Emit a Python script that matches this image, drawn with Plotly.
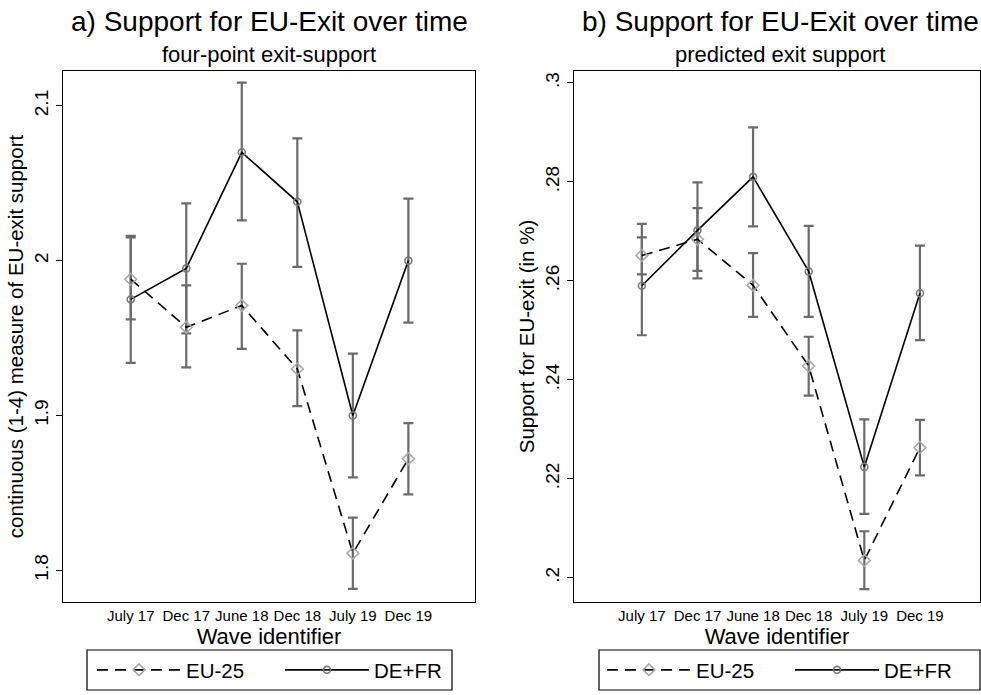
import numpy as np
import plotly.graph_objects as go

# ---------------- data ----------------
waves = ["July 17", "Dec 17", "June 18", "Dec 18", "July 19", "Dec 19"]
wave_pos = [1, 2, 3, 4, 5, 6]

# panel a) four-point exit-support (1-4 scale)
a_eu = [1.988, 1.957, 1.971, 1.930, 1.811, 1.872]
a_eu_lo = [1.962, 1.931, 1.943, 1.906, 1.788, 1.849]
a_eu_hi = [2.015, 1.984, 1.998, 1.955, 1.834, 1.895]
a_de = [1.975, 1.995, 2.070, 2.038, 1.900, 2.000]
a_de_lo = [1.934, 1.953, 2.026, 1.996, 1.860, 1.960]
a_de_hi = [2.016, 2.037, 2.115, 2.079, 1.940, 2.040]

# panel b) predicted exit support
b_eu = [0.2651, 0.2684, 0.2591, 0.2428, 0.2035, 0.2263]
b_eu_lo = [0.2613, 0.2620, 0.2527, 0.2368, 0.1977, 0.2207]
b_eu_hi = [0.2688, 0.2747, 0.2656, 0.2487, 0.2094, 0.2319]
b_de = [0.2590, 0.2702, 0.2810, 0.2619, 0.2224, 0.2575]
b_de_lo = [0.2490, 0.2605, 0.2710, 0.2527, 0.2129, 0.2480]
b_de_hi = [0.2715, 0.2799, 0.2910, 0.2711, 0.2320, 0.2671]

a_yticks = [1.8, 1.9, 2.0, 2.1]
a_yticktext = ["1.8", "1.9", "2", "2.1"]
b_yticks = [0.20, 0.22, 0.24, 0.26, 0.28, 0.30]
b_yticktext = [".2", ".22", ".24", ".26", ".28", ".3"]

series_names = ["EU-25", "DE+FR"]

# ---------------- styling ----------------
W, H = 981, 695
FONT = "Liberation Sans, Arial, Helvetica, sans-serif"
ERR_COL = "#6b6b6b"
DASH = "11px,7px"


def px_x(p):
    return p / W


def px_y(p):
    return 1 - p / H


fig = go.Figure()


def add_panel(xa, ya, eu, eu_lo, eu_hi, de, de_lo, de_hi, legend):
    eu = np.array(eu); de = np.array(de)
    for val, lo, hi in ((eu, np.array(eu_lo), np.array(eu_hi)),
                        (de, np.array(de_lo), np.array(de_hi))):
        fig.add_trace(go.Scatter(
            x=wave_pos, y=val, mode="markers", xaxis=xa, yaxis=ya,
            marker=dict(size=1, opacity=0), showlegend=False, hoverinfo="skip",
            error_y=dict(type="data", symmetric=False, array=hi - val,
                         arrayminus=val - lo, color=ERR_COL, thickness=2.2,
                         width=5)))
    fig.add_trace(go.Scatter(
        x=wave_pos, y=eu, mode="lines+markers", xaxis=xa, yaxis=ya,
        name=series_names[0], legend=legend,
        line=dict(color="black", width=1.6, dash=DASH),
        marker=dict(symbol="diamond-open", size=9, color="#a8a8a8",
                    line=dict(width=1.6, color="#a8a8a8"))))
    fig.add_trace(go.Scatter(
        x=wave_pos, y=de, mode="lines+markers", xaxis=xa, yaxis=ya,
        name=series_names[1], legend=legend,
        line=dict(color="black", width=1.6),
        marker=dict(symbol="circle-open", size=7, color="#7a7a7a",
                    line=dict(width=1.6, color="#7a7a7a"))))


add_panel("x", "y", a_eu, a_eu_lo, a_eu_hi, a_de, a_de_lo, a_de_hi, "legend")
add_panel("x2", "y2", b_eu, b_eu_lo, b_eu_hi, b_de, b_de_lo, b_de_hi, "legend2")

ydom = [px_y(602), px_y(71)]
common_x = dict(tickmode="array", tickvals=wave_pos, ticktext=waves,
                tickangle=0,
                showgrid=False, zeroline=False, showline=True, mirror=True,
                linecolor="black", linewidth=1.2, ticks="",
                tickfont=dict(family=FONT, size=15, color="black"),
                title=dict(text="Wave identifier",
                           font=dict(family=FONT, size=22, color="black"),
                           standoff=0))
common_y = dict(showgrid=False, zeroline=False, showline=True, mirror=True,
                linecolor="black", linewidth=1.2, ticks="outside", ticklen=6,
                tickcolor="black", tickwidth=1.2, tickangle=-90,
                tickfont=dict(family=FONT, size=19, color="black"))

legend_common = dict(orientation="h", xanchor="left", yanchor="middle",
                     y=px_y(670), itemwidth=84, entrywidth=89,
                     font=dict(family=FONT, size=20.5, color="black"),
                     bgcolor="rgba(0,0,0,0)")

fig.update_layout(
    width=W, height=H, margin=dict(l=0, r=0, t=0, b=0),
    paper_bgcolor="white", plot_bgcolor="white",
    xaxis=dict(domain=[px_x(63), px_x(475)], range=[-0.22, 7.2], **common_x),
    xaxis2=dict(domain=[px_x(574), px_x(980)], range=[-0.22, 7.08], anchor="y2",
                **common_x),
    yaxis=dict(domain=ydom, range=[1.7795, 2.1225], tickmode="array",
               tickvals=a_yticks, ticktext=a_yticktext,
               title=dict(text="continuous (1-4) measure of EU-exit support",
                          font=dict(family=FONT, size=20.5, color="black"),
                          standoff=2),
               **common_y),
    yaxis2=dict(domain=ydom, range=[0.1951, 0.3024], anchor="x2",
                tickmode="array", tickvals=b_yticks, ticktext=b_yticktext,
                title=dict(text="Support for EU-exit (in %)",
                           font=dict(family=FONT, size=20.5, color="black"),
                           standoff=2),
                **common_y),
    legend=dict(x=px_x(92), **legend_common),
    legend2=dict(x=px_x(602), **legend_common),
    showlegend=True,
)

# legend frames
fig.add_shape(type="rect", xref="paper", yref="paper",
              x0=px_x(87), x1=px_x(452), y0=px_y(690), y1=px_y(650),
              line=dict(color="black", width=1.2))
fig.add_shape(type="rect", xref="paper", yref="paper",
              x0=px_x(599), x1=px_x(980), y0=px_y(690), y1=px_y(650),
              line=dict(color="black", width=1.2))

# titles
for cx, t, s in ((269, "a) Support for EU-Exit over time", "four-point exit-support"),
                 (780, "b) Support for EU-Exit over time", "predicted exit support")):
    fig.add_annotation(x=px_x(cx), y=px_y(22), xref="paper", yref="paper",
                       text=t, showarrow=False, xanchor="center", yanchor="middle",
                       font=dict(family=FONT, size=28, color="black"))
    fig.add_annotation(x=px_x(cx), y=px_y(55), xref="paper", yref="paper",
                       text=s, showarrow=False, xanchor="center", yanchor="middle",
                       font=dict(family=FONT, size=22, color="black"))

fig.write_html("out.html", config={"displayModeBar": False},
               post_script="document.body.style.margin='0px';")
